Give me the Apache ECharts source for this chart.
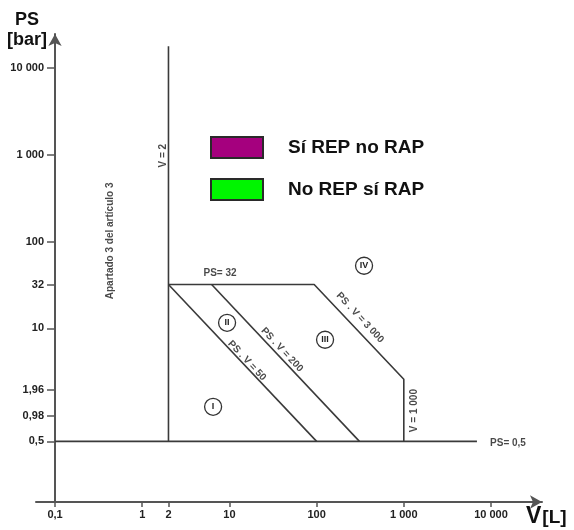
<!DOCTYPE html>
<html>
<head>
<meta charset="utf-8">
<script src="https://cdn.jsdelivr.net/npm/echarts@6/dist/echarts.min.js"></script>
<style>html,body{margin:0;padding:0;background:#fff}#c{width:574px;height:530px}</style>
</head>
<body>
<div id="c"></div>
<script>
// ---- data ----
const xTickValues = [0.1, 1, 2, 10, 100, 1000, 10000];
const xTickLabels = ['0,1', '1', '2', '10', '100', '1 000', '10 000'];
const yTickValues = [0.5, 0.98, 1.96, 10, 32, 100, 1000, 10000];
const yTickLabels = ['0,5', '0,98', '1,96', '10', '32', '100', '1 000', '10 000'];

const lineV2 = [[2, 0.5], [2, 17800]];
const linePS05 = [[0.1, 0.5], [6900, 0.5]];
const outerBoundary = [[2, 32], [93.75, 32], [1000, 2.6], [1000, 0.5]];
const linePSV50 = [[2, 32], [100, 0.5]];
const linePSV200 = [[6.25, 32], [310, 0.5]];

const regionNames = ['I', 'II', 'III', 'IV'];
const regionV = [6.5, 9.4, 125, 350];
const regionPS = [1.25, 11.6, 7.4, 52.7];

const noteTexts = ['PS= 32', 'PS= 0,5', 'V = 2', 'Apartado 3 del artículo 3', 'V = 1 000', 'PS . V = 50', 'PS . V = 200', 'PS . V = 3 000'];
const noteV = [7.8, 9750, 1.73, 0.427, 1309, 15.9, 40.1, 315];
const notePS = [42.7, 0.47, 977, 102, 1.13, 4.25, 5.68, 13.3];
const noteRotate = [0, 0, 90, 90, 90, -47, -47, -47];
const noteAlign = ['center', 'left', 'center', 'center', 'center', 'center', 'center', 'center'];

const legendNames = ['Sí REP no RAP', 'No REP sí RAP'];
const legendColors = ['#a5007e', '#00f500'];

// ---- chart ----
const FONT = '"Liberation Sans", Arial, sans-serif';
function lookup(vals, labels) {
  return function (v) {
    for (let i = 0; i < vals.length; i++) {
      if (Math.abs(v - vals[i]) / vals[i] < 1e-6) return labels[i];
    }
    return '';
  };
}
const lineStyle = { color: '#3a3a3a', width: 1.6 };
function boundary(data) {
  return { type: 'line', data: data, symbol: 'none', silent: true, lineStyle: lineStyle, z: 3 };
}

const chart = echarts.init(document.getElementById('c'));
const series = [
  boundary(lineV2), boundary(linePS05), boundary(outerBoundary), boundary(linePSV50), boundary(linePSV200),
  {
    type: 'scatter', silent: true, z: 4,
    symbol: 'circle', symbolSize: 17,
    itemStyle: { color: '#fff', borderColor: '#333', borderWidth: 1.3, opacity: 1 },
    data: regionNames.map((n, i) => ({ name: n, value: [regionV[i], regionPS[i]] })),
    label: { show: true, position: 'inside', formatter: '{b}', fontSize: 9, fontWeight: 'bold', color: '#222', fontFamily: FONT }
  },
  {
    type: 'scatter', silent: true, z: 5, symbolSize: 0,
    data: noteTexts.map((t, i) => ({
      name: t, value: [noteV[i], notePS[i]],
      label: { rotate: noteRotate[i], align: noteAlign[i] }
    })),
    label: { show: true, position: 'inside', formatter: '{b}', fontSize: 10, fontWeight: 'bold', color: '#1a1a1a', fontFamily: FONT, verticalAlign: 'middle' }
  }
];
legendNames.forEach((n, i) => {
  series.push({ type: 'scatter', name: n, data: [], itemStyle: { color: legendColors[i], borderColor: '#2a2a2a', borderWidth: 1.5, opacity: 1 } });
});

chart.setOption({
  animation: false,
  backgroundColor: '#fff',
  grid: { left: 36, right: 32, top: 34, bottom: 28, containLabel: false },
  legend: {
    data: legendNames, orient: 'vertical', left: 210, top: 136, padding: 0,
    icon: 'rect', itemWidth: 52, itemHeight: 21, itemGap: 19, selectedMode: false,
    itemStyle: { opacity: 1 },
    textStyle: { fontSize: 19, fontWeight: 'bold', color: '#111', fontFamily: FONT, padding: [0, 0, 0, 20], lineHeight: 21 }
  },
  xAxis: {
    type: 'log', logBase: 10, min: 0.0605, max: 38450,
    axisLine: { lineStyle: { color: '#555', width: 2 }, symbol: ['none', 'arrow'], symbolSize: [10, 12] },
    axisTick: { show: true, customValues: xTickValues, length: 5, lineStyle: { color: '#555', width: 1.5 } },
    axisLabel: { customValues: xTickValues, formatter: lookup(xTickValues, xTickLabels), margin: 7, fontSize: 11, fontWeight: 'bold', color: '#222', fontFamily: FONT },
    splitLine: { show: false }, minorTick: { show: false }
  },
  yAxis: {
    type: 'log', logBase: 10, min: 0.1, max: 24660, offset: -19,
    axisLine: { show: true, lineStyle: { color: '#555', width: 2 }, symbol: ['none', 'arrow'], symbolSize: [10, 12] },
    axisTick: { show: true, customValues: yTickValues, length: 8, lineStyle: { color: '#555', width: 1.5 } },
    axisLabel: { customValues: yTickValues, formatter: lookup(yTickValues, yTickLabels), margin: 11, fontSize: 11, fontWeight: 'bold', color: '#222', fontFamily: FONT },
    splitLine: { show: false }, minorTick: { show: false }
  },
  graphic: [
    { type: 'text', x: 27, y: 10, style: { text: 'PS\n[bar]', fontSize: 18, fontWeight: 'bold', fill: '#111', fontFamily: FONT, align: 'center', verticalAlign: 'top', lineHeight: 20 } },
    { type: 'text', left: 526, top: 505, style: { text: '{v|V}{l|[L]}', rich: { v: { fontSize: 23, fontWeight: 'bold', fill: '#111', fontFamily: FONT }, l: { fontSize: 19, fontWeight: 'bold', fill: '#111', fontFamily: FONT, padding: [3, 0, 0, 1] } } } }
  ],
  series: series
});
</script>
</body>
</html>
